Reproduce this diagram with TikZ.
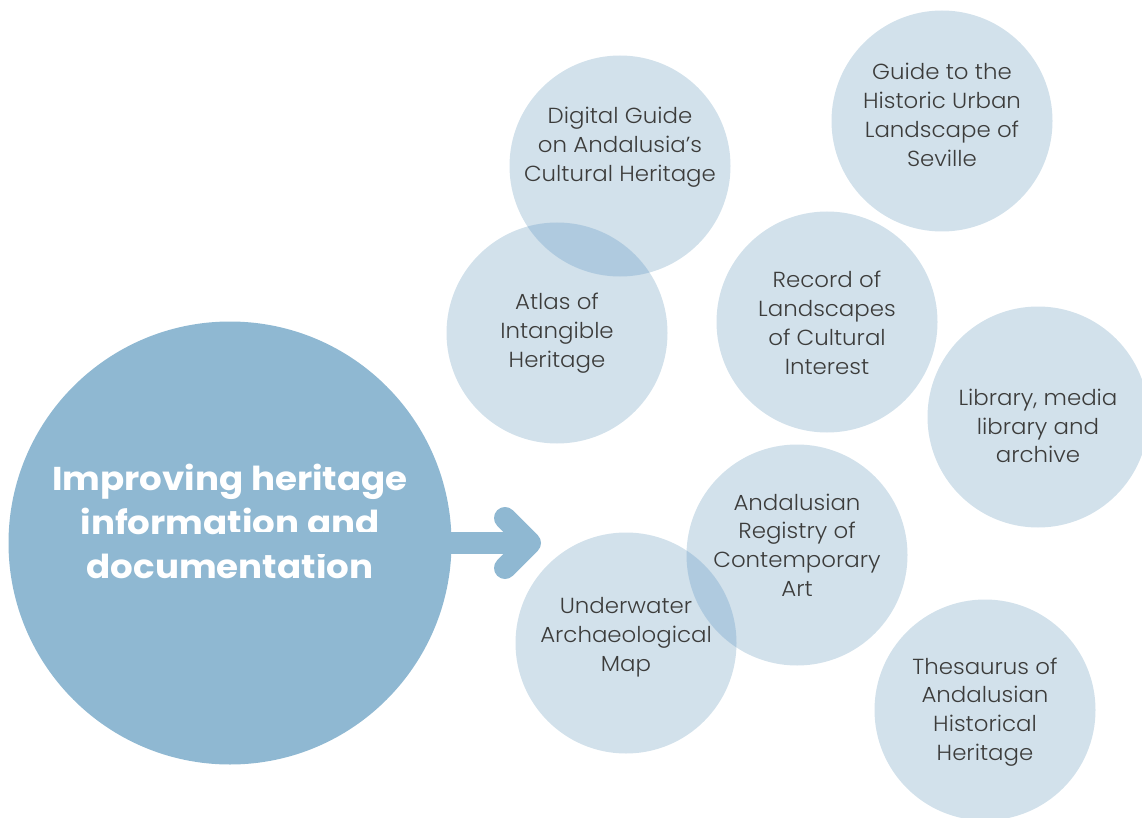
\documentclass[tikz,border=0pt]{standalone}
\usepackage{fontspec}
\setmainfont{Poppins Light}[FakeStretch=1.05]
\newfontfamily\titlefont{Poppins Bold}[FakeStretch=1.08]
\begin{document}
\begin{tikzpicture}[x=1pt,y=-1pt,
  bub/.style={circle,minimum size=221pt,inner sep=0pt,fill=bubfill},
  btxt/.style={align=center,text=txtgray,font=\fontsize{21.8}{28.8}\selectfont},
  ]
\definecolor{bubfill}{HTML}{D2E1EB}
\definecolor{lens}{HTML}{AFCADF}
\definecolor{bigfill}{HTML}{8FB8D2}
\definecolor{txtgray}{HTML}{3C3C3B}
\useasboundingbox (0,0) rectangle (1142,818);
% big circle
\node[circle,minimum size=443pt,inner sep=0pt,fill=bigfill] (main) at (230,543) {};
\node[align=center,text=white,font=\titlefont\fontsize{33}{44}\selectfont] (title) at (230,521) {Improving heritage\\information and\\documentation};
% arrow
\coordinate (ashaft) at (528,543);
\draw[bigfill,line width=22pt] (main.center) -- (ashaft);
\coordinate (atop) at (505,518);
\coordinate (atip) at (530,543);
\coordinate (abot) at (505,568);
\draw[bigfill,line width=22pt,line cap=round,line join=round] (atop) -- (atip) -- (abot);
% bubbles
\node[bub] (dg) at (620,166) {};
\node[bub] (gu) at (942,121) {};
\node[bub] (at) at (557,333) {};
\node[bub] (rc) at (827,322) {};
\node[bub] (lb) at (1038,417) {};
\node[bub] (ar) at (797,555) {};
\node[bub] (uw) at (626,643) {};
\node[bub] (th) at (985,710) {};
% overlaps
\begin{scope}
\clip (620,166) circle (110.5pt);
\fill[lens] (557,333) circle (110.5pt);
\end{scope}
\begin{scope}
\clip (797,555) circle (110.5pt);
\fill[lens] (626,643) circle (110.5pt);
\end{scope}
% texts
\node[btxt] (dgt) at (620,147) {Digital Guide\\on Andalusia’s\\Cultural Heritage};
\node[btxt] (gut) at (942,115) {Guide to the\\Historic Urban\\Landscape of\\Seville};
\node[btxt] (att) at (557,333) {Atlas of\\Intangible\\Heritage};
\node[btxt] (rct) at (827,323) {Record of\\Landscapes\\of Cultural\\Interest};
\node[btxt] (lbt) at (1038,426) {Library, media\\library and\\archive};
\node[btxt] (art) at (797,545) {Andalusian\\Registry of\\Contemporary\\Art};
\node[btxt] (uwt) at (626,637) {Underwater\\Archaeological\\Map};
\node[btxt] (tht) at (985,712) {Thesaurus of\\Andalusian\\Historical\\Heritage};
\end{tikzpicture}
\end{document}
